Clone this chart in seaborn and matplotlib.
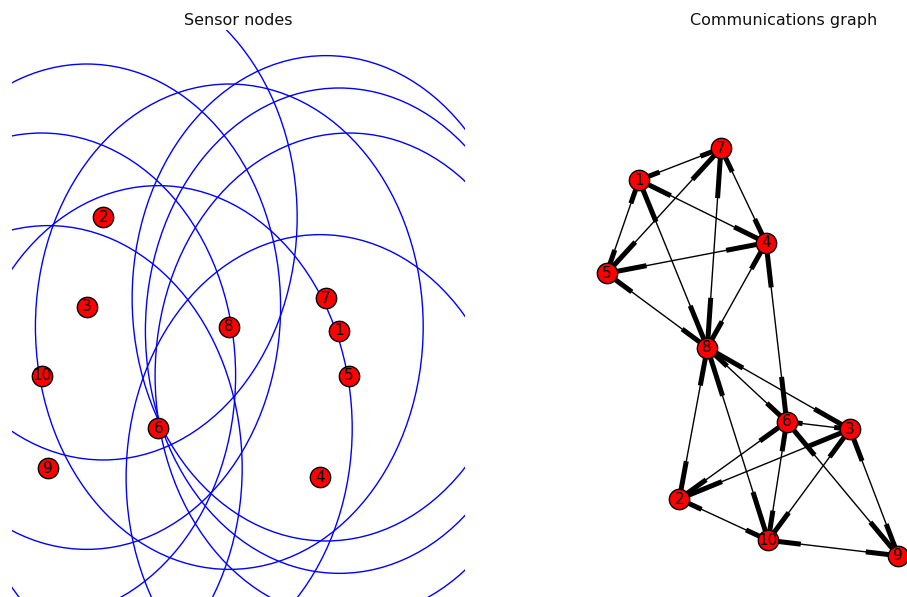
import numpy as np
import pandas as pd
import matplotlib
matplotlib.use("Agg")
import matplotlib.pyplot as plt
from matplotlib.patches import Circle
from matplotlib.collections import LineCollection
import seaborn as sns

# Sensor node ids
node_ids = [1, 2, 3, 4, 5, 6, 7, 8, 9, 10]

# Sensor positions in the unit square (same order as node_ids)
sensor_x = [0.7225, 0.2015, 0.1649, 0.6799, 0.7439, 0.3230, 0.6932, 0.4797, 0.0801, 0.0656]
sensor_y = [0.4697, 0.6697, 0.5120, 0.2111, 0.3903, 0.2975, 0.5268, 0.4767, 0.2270, 0.3903]

# Radio range of every sensor
comm_range = 0.428

# Layout of the communications graph (same order as node_ids)
graph_x = [0.1810, 0.2700, 0.6468, 0.4614, 0.1097, 0.5071, 0.3620, 0.3318, 0.7534, 0.4664]
graph_y = [0.7354, 0.1728, 0.2958, 0.6249, 0.5709, 0.3092, 0.7914, 0.4397, 0.0728, 0.1000]

# Radio links; every link is used in both directions
links = [(1, 7), (1, 5), (1, 4), (1, 8), (7, 5), (7, 4), (7, 8), (5, 4), (5, 8),
         (4, 8), (4, 6), (8, 6), (8, 3), (8, 2), (8, 10), (6, 3), (6, 2), (6, 10),
         (6, 9), (3, 2), (3, 10), (3, 9), (2, 10), (10, 9)]

sensors = pd.DataFrame({"node": node_ids, "x": sensor_x, "y": sensor_y})
layout = pd.DataFrame({"node": node_ids, "x": graph_x, "y": graph_y})

sns.set_theme(style="white")
plt.rcParams["font.family"] = ["DejaVu Sans"]

W, H = 907, 597
fig = plt.figure(figsize=(W / 100, H / 100), dpi=100)
ax1 = fig.add_axes([12 / W, 0, 453 / W, 567 / H])
ax2 = fig.add_axes([557 / W, 0, 453 / W, 567 / H])


def draw_nodes(ax, df):
    sns.scatterplot(data=df, x="x", y="y", ax=ax, s=215, color="red",
                    edgecolor="black", linewidth=1.0, legend=False, zorder=3)
    for _, row in df.iterrows():
        ax.text(row.x, row.y, str(int(row.node)), ha="center", va="center",
                fontsize=11, color="black", zorder=4)


# Left: sensors with their radio range
for _, row in sensors.iterrows():
    ax1.add_patch(Circle((row.x, row.y), comm_range, fill=False,
                         edgecolor="blue", linewidth=1.0, zorder=1))
draw_nodes(ax1, sensors)

# Right: directed communications graph
pos = {n: (x, y) for n, x, y in zip(node_ids, graph_x, graph_y)}
thin, heads = [], []
for a, b in links:
    thin.append([pos[a], pos[b]])
    for src, dst in ((a, b), (b, a)):
        (x1, y1), (x2, y2) = pos[src], pos[dst]
        xa = x1 + 0.75 * (x2 - x1)
        ya = y1 + 0.75 * (y2 - y1)
        heads.append([(xa, ya), (x2, y2)])
ax2.add_collection(LineCollection(thin, colors="black", linewidths=1.0, zorder=1))
ax2.add_collection(LineCollection(heads, colors="black", linewidths=3.6, zorder=2))
draw_nodes(ax2, layout)

for ax, title in ((ax1, "Sensor nodes"), (ax2, "Communications graph")):
    ax.set_xlim(0, 1)
    ax.set_ylim(0, 1)
    ax.set_axis_off()
    ax.set_title(title, fontsize=11.5, pad=3.3, color="#111111")

fig.savefig("out.png", dpi=100)
